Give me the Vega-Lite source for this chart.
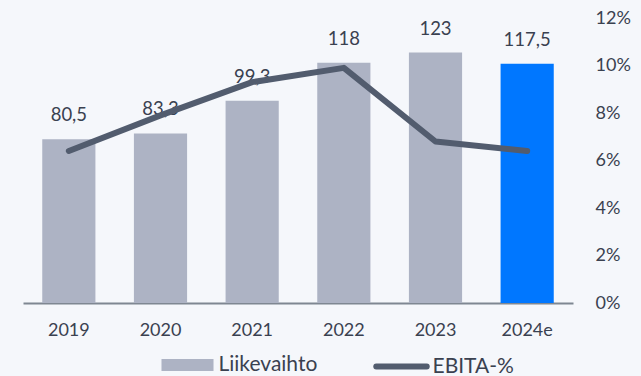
{
  "$schema": "https://vega.github.io/schema/vega-lite/v6.json",
  "width": 550,
  "height": 285,
  "autosize": {"type": "none"},
  "padding": {"left": 23, "top": 18, "right": 68, "bottom": 73},
  "background": "#f5f7fb",
  "config": {
    "view": {"stroke": null},
    "font": "Lato",
    "locale": {
      "number": {"decimal": ",", "thousands": " ", "grouping": [3], "currency": ["", " €"]}
    },
    "axis": {
      "labelFont": "Lato",
      "labelFontSize": 18,
      "labelColor": "#3a4150",
      "grid": false,
      "ticks": false,
      "title": null
    }
  },
  "data": {
    "values": [
      {"year": "2019", "revenue": 80.5, "ebita": 0.064},
      {"year": "2020", "revenue": 83.3, "ebita": 0.079},
      {"year": "2021", "revenue": 99.3, "ebita": 0.093},
      {"year": "2022", "revenue": 118, "ebita": 0.099},
      {"year": "2023", "revenue": 123, "ebita": 0.068},
      {"year": "2024e", "revenue": 117.5, "ebita": 0.064}
    ]
  },
  "encoding": {
    "x": {
      "field": "year",
      "type": "ordinal",
      "sort": null,
      "scale": {"paddingInner": 0.42, "paddingOuter": 0.21},
      "axis": {
        "labelAngle": 0,
        "domainColor": "#7f8792",
        "domainWidth": 2,
        "labelPadding": 18
      }
    }
  },
  "layer": [
    {
      "mark": {"type": "bar"},
      "encoding": {
        "y": {"field": "revenue", "type": "quantitative", "scale": {"domain": [0, 140]}, "axis": null},
        "color": {
          "datum": "Liikevaihto",
          "condition": {"test": "datum.year === '2024e'", "value": "#0077ff"},
          "scale": {"domain": ["Liikevaihto", "EBITA-%"], "range": ["#adb3c4", "#525c6e"]},
          "legend": {
            "orient": "none",
            "legendX": 135.5,
            "legendY": 318,
            "direction": "horizontal",
            "title": null,
            "labelFont": "Lato",
            "labelFontSize": 21,
            "labelColor": "#3a4150",
            "symbolSize": 2704,
            "columnPadding": 46,
            "labelOffset": 2,
            "encode": {
              "symbols": {
                "update": {
                  "shape": {"signal": "(datum.value === 'EBITA-%' ? 'M-0.97,0H0.97' : 'M-0.885,-0.115H0.885V0.115H-0.885Z')"},
                  "fill": {"signal": "(datum.value === 'EBITA-%' ? 'transparent' : '#adb3c4')"},
                  "stroke": {"signal": "(datum.value === 'EBITA-%' ? '#525c6e' : '#adb3c4')"},
                  "strokeWidth": {"value": 6},
                  "strokeCap": {"signal": "(datum.value === 'EBITA-%' ? 'round' : 'butt')"},
                  "strokeJoin": {"value": "miter"},
                  "opacity": {"value": 1}
                }
              }
            }
          }
        }
      }
    },
    {
      "mark": {"type": "text", "baseline": "alphabetic", "dy": -18, "fontSize": 18.5, "font": "Lato", "color": "#3a4150"},
      "encoding": {
        "y": {"field": "revenue", "type": "quantitative", "scale": {"domain": [0, 140]}, "axis": null},
        "text": {"field": "revenue", "type": "quantitative", "format": ".1~f"}
      }
    },
    {
      "mark": {"type": "line", "strokeWidth": 6, "strokeCap": "round", "strokeJoin": "round"},
      "encoding": {
        "y": {
          "field": "ebita",
          "type": "quantitative",
          "scale": {"domain": [0, 0.12]},
          "axis": {
            "orient": "right",
            "values": [0, 0.02, 0.04, 0.06, 0.08, 0.1, 0.12],
            "format": ".0%",
            "labelAlign": "left",
            "labelBaseline": "middle",
            "labelPadding": 22,
            "domain": false
          }
        },
        "color": {"datum": "EBITA-%"}
      }
    }
  ],
  "resolve": {"scale": {"y": "independent"}}
}
